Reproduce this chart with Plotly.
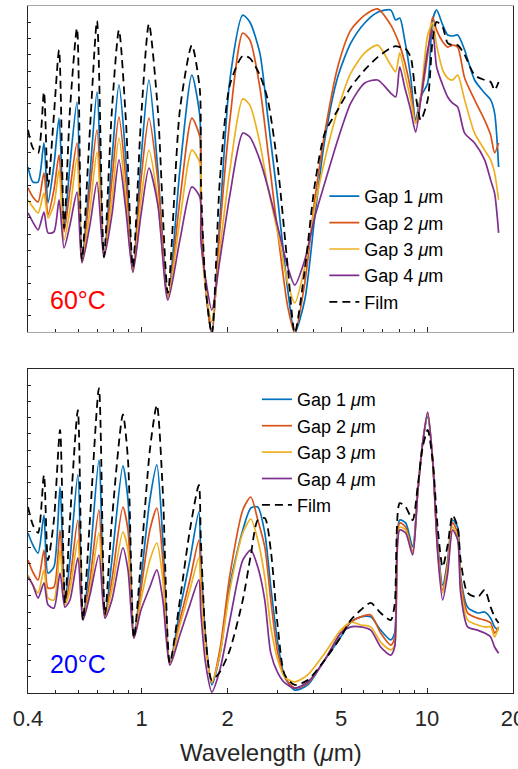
import math
import plotly.graph_objects as go

# ---------------- data ----------------
top_wl = [0.400, 0.416, 0.434, 0.455, 0.470, 0.493, 0.514, 0.535, 0.561, 0.594,
          0.618, 0.659, 0.698, 0.738, 0.787, 0.833, 0.881, 0.932, 0.995, 1.061,
          1.140, 1.236, 1.362, 1.500, 1.600, 1.613, 1.679, 1.762, 1.880, 2.038,
          2.262, 2.394, 2.595, 2.767, 3.000, 3.251, 3.440, 3.729, 4.042, 4.381,
          4.865, 5.404, 6.047, 6.714, 7.458, 7.765, 8.020, 8.350, 8.760, 9.120,
          9.500, 10.05, 10.46, 10.80, 11.34, 11.81, 12.29, 12.80, 13.54, 14.67,
          15.91, 16.70, 17.24, 17.81]

top_film = [0.620, 0.564, 0.549, 0.736, 0.445, 0.666, 0.865, 0.319, 0.681, 0.932,
            0.221, 0.620, 0.954, 0.230, 0.681, 0.926, 0.650, 0.199, 0.650, 0.945,
            0.681, 0.120, 0.681, 0.880, 0.742, 0.466, 0.129, -0.006, 0.466, 0.758,
            0.847, 0.840, 0.788, 0.712, 0.506, 0.199, -0.003, 0.190, 0.451, 0.610,
            0.681, 0.751, 0.804, 0.843, 0.871, 0.877, 0.874, 0.871, 0.843, 0.727,
            0.650, 0.712, 0.896, 0.951, 0.935, 0.886, 0.880, 0.880, 0.850, 0.788,
            0.773, 0.767, 0.742, 0.767]
top_gap1 = [0.506, 0.460, 0.460, 0.580, 0.396, 0.512, 0.656, 0.319, 0.512, 0.705,
            0.221, 0.482, 0.736, 0.230, 0.528, 0.758, 0.528, 0.184, 0.528, 0.773,
            0.497, 0.104, 0.497, 0.788, 0.660, 0.405, 0.129, -0.003, 0.344, 0.773,
            0.972, 0.951, 0.856, 0.660, 0.405, 0.129, -0.003, 0.098, 0.353, 0.589,
            0.782, 0.886, 0.948, 0.981, 0.988, 0.957, 0.963, 0.896, 0.782, 0.650,
            0.721, 0.764, 0.957, 0.988, 0.942, 0.911, 0.908, 0.911, 0.865, 0.773,
            0.733, 0.712, 0.672, 0.506]
top_gap2 = [0.442, 0.414, 0.399, 0.488, 0.359, 0.436, 0.543, 0.307, 0.436, 0.580,
            0.215, 0.436, 0.620, 0.230, 0.466, 0.660, 0.466, 0.184, 0.466, 0.656,
            0.466, 0.104, 0.405, 0.656, 0.598, 0.405, 0.129, -0.003, 0.313, 0.650,
            0.917, 0.896, 0.751, 0.558, 0.304, 0.077, -0.003, 0.150, 0.405, 0.610,
            0.813, 0.926, 0.972, 0.991, 0.942, 0.911, 0.880, 0.828, 0.742, 0.641,
            0.712, 0.850, 0.966, 0.926, 0.890, 0.874, 0.880, 0.874, 0.779, 0.712,
            0.650, 0.604, 0.549, 0.580]
top_gap3 = [0.405, 0.383, 0.365, 0.426, 0.350, 0.390, 0.497, 0.282, 0.374, 0.534,
            0.215, 0.374, 0.552, 0.230, 0.405, 0.595, 0.405, 0.184, 0.405, 0.558,
            0.405, 0.104, 0.344, 0.558, 0.518, 0.304, 0.129, 0.031, 0.252, 0.497,
            0.715, 0.696, 0.580, 0.445, 0.304, 0.150, 0.089, 0.199, 0.383, 0.528,
            0.681, 0.794, 0.856, 0.880, 0.819, 0.798, 0.856, 0.794, 0.712, 0.641,
            0.721, 0.911, 0.948, 0.880, 0.804, 0.779, 0.773, 0.788, 0.712, 0.610,
            0.558, 0.528, 0.488, 0.405]
top_gap4 = [0.365, 0.337, 0.313, 0.368, 0.304, 0.307, 0.405, 0.258, 0.328, 0.429,
            0.212, 0.328, 0.460, 0.230, 0.359, 0.528, 0.374, 0.184, 0.359, 0.503,
            0.390, 0.098, 0.282, 0.445, 0.414, 0.282, 0.159, 0.067, 0.221, 0.420,
            0.610, 0.598, 0.528, 0.445, 0.322, 0.199, 0.144, 0.221, 0.353, 0.457,
            0.589, 0.702, 0.764, 0.773, 0.733, 0.721, 0.813, 0.751, 0.681, 0.613,
            0.712, 0.865, 0.926, 0.813, 0.758, 0.721, 0.702, 0.690, 0.610, 0.580,
            0.528, 0.466, 0.426, 0.304]

bot_wl = [0.400, 0.416, 0.434, 0.455, 0.470, 0.493, 0.518, 0.539, 0.561, 0.598,
          0.623, 0.659, 0.709, 0.744, 0.787, 0.860, 0.896, 0.940, 0.995, 1.069,
          1.131, 1.187, 1.256, 1.362, 1.476, 1.587, 1.613, 1.679, 1.762, 1.880,
          2.038, 2.262, 2.413, 2.553, 2.701, 2.835, 3.000, 3.174, 3.440, 3.820,
          4.381, 4.985, 5.404, 5.855, 6.347, 6.879, 7.458, 7.699, 8.020, 8.414,
          8.904, 9.268, 9.653, 10.05, 10.46, 10.89, 11.34, 11.81, 12.29, 12.80,
          13.11, 13.87, 15.03, 15.91, 16.70, 17.24, 17.81]

bot_film = [0.574, 0.519, 0.494, 0.673, 0.410, 0.534, 0.812, 0.278, 0.534, 0.873,
            0.225, 0.534, 0.941, 0.241, 0.534, 0.860, 0.720, 0.170, 0.410, 0.750,
            0.889, 0.620, 0.093, 0.287, 0.503, 0.642, 0.472, 0.164, 0.040, 0.065,
            0.133, 0.287, 0.426, 0.534, 0.540, 0.441, 0.204, 0.056, 0.025, 0.040,
            0.102, 0.173, 0.225, 0.256, 0.278, 0.247, 0.225, 0.272, 0.586, 0.574,
            0.534, 0.636, 0.759, 0.812, 0.719, 0.512, 0.389, 0.457, 0.549, 0.512,
            0.410, 0.309, 0.296, 0.318, 0.265, 0.235, 0.216]
bot_gap1 = [0.494, 0.457, 0.432, 0.549, 0.370, 0.389, 0.636, 0.287, 0.410, 0.673,
            0.231, 0.410, 0.719, 0.235, 0.410, 0.701, 0.596, 0.170, 0.349, 0.596,
            0.704, 0.472, 0.093, 0.256, 0.410, 0.559, 0.410, 0.164, 0.025, 0.117,
            0.333, 0.503, 0.571, 0.574, 0.494, 0.327, 0.154, 0.049, 0.009, 0.025,
            0.102, 0.173, 0.219, 0.235, 0.235, 0.194, 0.164, 0.185, 0.534, 0.525,
            0.451, 0.617, 0.772, 0.852, 0.719, 0.463, 0.333, 0.410, 0.534, 0.512,
            0.358, 0.265, 0.247, 0.250, 0.231, 0.204, 0.194]
bot_gap2 = [0.410, 0.373, 0.349, 0.441, 0.324, 0.327, 0.503, 0.278, 0.349, 0.534,
            0.231, 0.349, 0.565, 0.235, 0.349, 0.574, 0.503, 0.170, 0.318, 0.503,
            0.571, 0.410, 0.093, 0.225, 0.349, 0.472, 0.364, 0.148, 0.031, 0.133,
            0.364, 0.565, 0.605, 0.534, 0.451, 0.287, 0.123, 0.049, 0.015, 0.031,
            0.102, 0.185, 0.219, 0.235, 0.241, 0.185, 0.148, 0.170, 0.525, 0.512,
            0.435, 0.617, 0.772, 0.864, 0.719, 0.451, 0.318, 0.401, 0.525, 0.494,
            0.349, 0.247, 0.231, 0.225, 0.216, 0.185, 0.204]
bot_gap3 = [0.364, 0.333, 0.309, 0.380, 0.293, 0.287, 0.441, 0.272, 0.318, 0.472,
            0.231, 0.318, 0.494, 0.235, 0.318, 0.497, 0.441, 0.170, 0.287, 0.410,
            0.463, 0.349, 0.093, 0.210, 0.318, 0.417, 0.318, 0.133, 0.034, 0.117,
            0.318, 0.494, 0.537, 0.472, 0.358, 0.204, 0.102, 0.049, 0.034, 0.056,
            0.123, 0.194, 0.219, 0.210, 0.204, 0.157, 0.133, 0.148, 0.512, 0.503,
            0.432, 0.617, 0.772, 0.864, 0.719, 0.441, 0.309, 0.389, 0.512, 0.481,
            0.327, 0.225, 0.210, 0.204, 0.204, 0.173, 0.204]
bot_gap4 = [0.358, 0.333, 0.293, 0.340, 0.272, 0.262, 0.370, 0.265, 0.287, 0.417,
            0.225, 0.302, 0.426, 0.231, 0.287, 0.448, 0.380, 0.170, 0.256, 0.327,
            0.380, 0.287, 0.086, 0.179, 0.272, 0.349, 0.247, 0.086, 0.003, 0.071,
            0.225, 0.410, 0.441, 0.389, 0.287, 0.123, 0.062, 0.031, 0.015, 0.034,
            0.102, 0.185, 0.204, 0.204, 0.194, 0.142, 0.117, 0.142, 0.503, 0.494,
            0.426, 0.617, 0.772, 0.867, 0.719, 0.432, 0.287, 0.370, 0.503, 0.472,
            0.309, 0.204, 0.194, 0.185, 0.173, 0.142, 0.123]

series_names = ["Gap 1 <i>\u03bc</i>m", "Gap 2 <i>\u03bc</i>m",
                "Gap 3 <i>\u03bc</i>m", "Gap 4 <i>\u03bc</i>m", "Film"]
major_ticks = [0.4, 1, 2, 5, 10, 20]
major_labels = ["0.4", "1", "2", "5", "10", "20"]
minor_ticks = [0.5, 0.6, 0.7, 0.8, 0.9, 3, 4, 6, 7, 8, 9]
panel_labels = ["60\u00b0C", "20\u00b0C"]

# ---------------- figure ----------------
colors = ["#0072BD", "#D95319", "#EDB120", "#7E2F8E"]
FONT = "Liberation Sans, Arial, Helvetica, sans-serif"

fig = go.Figure()

panels = [
    (top_wl, [top_gap1, top_gap2, top_gap3, top_gap4], top_film, "x", "y", "legend"),
    (bot_wl, [bot_gap1, bot_gap2, bot_gap3, bot_gap4], bot_film, "x2", "y2", "legend2"),
]
for wl, gaps, film, xa, ya, lg in panels:
    for i, g in enumerate(gaps):
        fig.add_trace(go.Scatter(
            x=wl, y=g, mode="lines", name=series_names[i],
            line=dict(color=colors[i], width=1.7, shape="spline", smoothing=0.7),
            xaxis=xa, yaxis=ya, legend=lg))
    fig.add_trace(go.Scatter(
        x=wl, y=film, mode="lines", name=series_names[4],
        line=dict(color="black", width=1.8, dash="8px,5px", shape="spline", smoothing=0.7),
        xaxis=xa, yaxis=ya, legend=lg))

xr = [math.log10(0.4), math.log10(20)]

def xaxis_cfg(show_labels, linecolor, anchor):
    return dict(
        type="log", range=xr, anchor=anchor, automargin=False,
        tickmode="array", tickvals=major_ticks,
        ticktext=major_labels if show_labels else [""] * len(major_ticks),
        showticklabels=show_labels, ticklabeloverflow="allow",
        ticklabelstandoff=6,
        ticks="inside", ticklen=5, tickwidth=1, tickcolor="#262626",
        minor=dict(tickmode="array", tickvals=minor_ticks, ticks="inside",
                   ticklen=3, tickwidth=1, tickcolor="#262626", showgrid=False),
        showline=True, linecolor=linecolor, linewidth=1, mirror=True,
        showgrid=False, zeroline=False,
        tickfont=dict(family=FONT, size=22, color="#262626"),
    )

def yaxis_cfg(domain, anchor, linecolor):
    return dict(
        domain=domain, anchor=anchor, range=[0, 1], automargin=False,
        tickmode="linear", tick0=0, dtick=0.05,
        ticks="inside", ticklen=3, tickwidth=1, tickcolor="#262626",
        showticklabels=False,
        showline=True, linecolor=linecolor, linewidth=1, mirror=True,
        showgrid=False, zeroline=False,
    )

fig.update_layout(
    width=518, height=769,
    margin=dict(l=28, r=5, t=6, b=76, autoexpand=False),
    paper_bgcolor="white", plot_bgcolor="white",
    font=dict(family=FONT, color="#262626"),
    xaxis=xaxis_cfg(False, "#a6a6a6", "y"),
    yaxis=yaxis_cfg([0.5255, 1.0], "x", "#262626"),
    xaxis2=xaxis_cfg(True, "#262626", "y2"),
    yaxis2=yaxis_cfg([0.0, 0.4716], "x2", "#262626"),
    legend=dict(x=0.611, y=0.7496, xanchor="left", yanchor="top",
                bgcolor="rgba(0,0,0,0)", borderwidth=0,
                font=dict(family=FONT, size=18, color="black"),
                itemwidth=30, tracegroupgap=0),
    legend2=dict(x=0.472, y=0.454, xanchor="left", yanchor="top",
                 bgcolor="rgba(0,0,0,0)", borderwidth=0,
                 font=dict(family=FONT, size=18, color="black"),
                 itemwidth=30, tracegroupgap=0),
    showlegend=True,
)

fig.add_annotation(text=panel_labels[0], xref="paper", yref="paper",
                   x=0.103, y=0.572, xanchor="center", yanchor="middle",
                   showarrow=False, font=dict(family=FONT, size=25, color="#FF0000"))
fig.add_annotation(text=panel_labels[1], xref="paper", yref="paper",
                   x=0.103, y=0.042, xanchor="center", yanchor="middle",
                   showarrow=False, font=dict(family=FONT, size=25, color="#0000FF"))
fig.add_annotation(text="Wavelength (<i>\u03bc</i>m)", xref="paper", yref="paper",
                   x=0.5, y=-0.0873, xanchor="center", yanchor="middle",
                   showarrow=False, font=dict(family=FONT, size=24, color="#262626"))

fig.write_html(
    "out.html",
    config={"displayModeBar": False},
    post_script="document.body.style.margin='0';document.body.style.overflow='hidden';",
)
